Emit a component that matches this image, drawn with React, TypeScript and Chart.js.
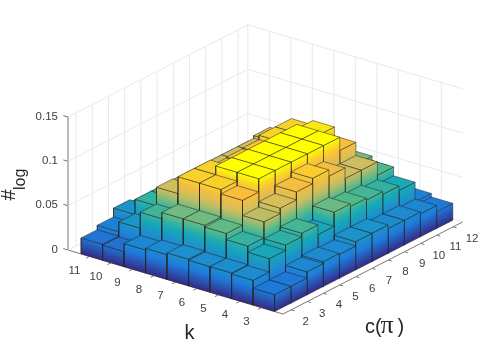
import React, { useEffect, useRef } from "react";
import { Chart, registerables } from "chart.js";

Chart.register(...registerables);

const cTicks = [2, 3, 4, 5, 6, 7, 8, 9, 10, 11, 12];
const kTicks = [3, 4, 5, 6, 7, 8, 9, 10, 11];
const zTicks = [0, 0.05, 0.1, 0.15];

const k3 = [0.019, 0.019, 0.026, 0.028, 0.027, 0.032, 0.032, 0.028, 0.028, 0.026, 0.019];
const k4 = [0.028, 0.043, 0.049, 0.053, 0.042, 0.058, 0.055, 0.053, 0.05, 0.045, 0.023];
const k5 = [0.029, 0.05, 0.068, 0.074, 0.083, 0.089, 0.082, 0.07, 0.07, 0.055, 0.029];
const k6 = [0.029, 0.057, 0.085, 0.1, 0.1, 0.1, 0.1, 0.1, 0.085, 0.06, 0.04];
const k7 = [0.03, 0.059, 0.09, 0.1, 0.1, 0.1, 0.1, 0.1, 0.095, 0.05, 0.03];
const k8 = [0.028, 0.059, 0.09, 0.09, 0.083, 0.084, 0.085, 0.09, 0.09, 0.05, 0.025];
const k9 = [0.026, 0.052, 0.071, 0.07, 0.07, 0.07, 0.07, 0.07, 0.073, 0.04, 0.02];
const k10 = [0.017, 0.034, 0.05, 0.05, 0.05, 0.05, 0.05, 0.05, 0.05, 0.03, 0.018];
const k11 = [0.018, 0.023, 0.033, 0.03, 0.03, 0.03, 0.03, 0.03, 0.03, 0.02, 0.018];
const heights = [k3, k4, k5, k6, k7, k8, k9, k10, k11];

const mapStops = [0, 0.2, 0.45, 0.55, 0.7, 0.85, 0.92, 1];
const mapColors: number[][] = [
  [53, 42, 135], [30, 125, 220], [25, 170, 180], [80, 185, 140],
  [205, 190, 95], [250, 190, 60], [250, 215, 35], [255, 255, 0],
];
const zMax = 0.1;
const C0 = 1.5, K0 = 2, CN = 12.6, KN = 12, ZTOP = 0.15, BAR_K_SHIFT = -0.11;

function proj(c: number, k: number, z: number) {
  return {
    x: 283 + 16.2 * (c - C0) - 21.5 * (k - K0),
    y: 314 - 8.3 * (c - C0) - 6.4 * (k - K0) - 886.67 * z,
  };
}
function colorAt(t: number) {
  const v = Math.max(0, Math.min(1, t));
  let i = 0;
  while (i < mapStops.length - 2 && v > mapStops[i + 1]) i++;
  const u = (v - mapStops[i]) / (mapStops[i + 1] - mapStops[i]);
  const a = mapColors[i], b = mapColors[i + 1];
  return `rgb(${a.map((w, n) => Math.round(w + (b[n] - w) * u)).join(",")})`;
}

function buildBars() {
  const faces: any[] = [];
  const edge = "rgba(35,35,35,0.85)";
  for (let j = 0; j < kTicks.length; j++) {
    for (let i = 0; i < cTicks.length; i++) {
      const c = cTicks[i], k = kTicks[j] + BAR_K_SHIFT, z = heights[j][i];
      const c0 = c - 0.5, c1 = c + 0.5, k0 = k - 0.5, k1 = k + 0.5;
      const common = { showLine: true, borderColor: edge, borderWidth: 0.6, pointRadius: 0, tension: 0, fill: false };
      faces.push({ ...common, faceKind: "top", faceZ: z, data: [proj(c0, k0, z), proj(c1, k0, z), proj(c1, k1, z), proj(c0, k1, z), proj(c0, k0, z)] });
      faces.push({ ...common, faceKind: "side", faceZ: z, data: [proj(c0, k0, 0), proj(c1, k0, 0), proj(c1, k0, z), proj(c0, k0, z), proj(c0, k0, 0)] });
      faces.push({ ...common, faceKind: "side", faceZ: z, data: [proj(c0, k1, 0), proj(c0, k0, 0), proj(c0, k0, z), proj(c0, k1, z), proj(c0, k1, 0)] });
    }
  }
  return faces;
}

function buildGrid() {
  const sets: any[] = [];
  const grid = { showLine: true, borderColor: "#e9e9ec", borderWidth: 1, pointRadius: 0, fill: false, tension: 0 };
  for (const z of zTicks) {
    sets.push({ ...grid, data: [proj(C0, KN, z), proj(CN, KN, z), proj(CN, K0, z)] });
  }
  for (const c of cTicks) sets.push({ ...grid, data: [proj(c, KN, 0), proj(c, KN, ZTOP)] });
  for (const k of kTicks) sets.push({ ...grid, data: [proj(CN, k, 0), proj(CN, k, ZTOP)] });
  sets.push({ ...grid, data: [proj(CN, KN, 0), proj(CN, KN, ZTOP)] });
  const ax = { ...grid, borderColor: "#777", borderWidth: 1 };
  sets.push({ ...ax, data: [proj(C0, KN, 0), proj(C0, KN, ZTOP)] });
  sets.push({ ...ax, data: [proj(C0, KN, 0), proj(C0, K0, 0), proj(CN, K0, 0)] });
  for (const z of zTicks) sets.push({ ...ax, data: [proj(C0, KN, z), proj(C0, KN + 0.22, z)] });
  for (const k of kTicks) sets.push({ ...ax, data: [proj(C0, k, 0), proj(C0 - 0.22, k, 0)] });
  for (const c of cTicks) sets.push({ ...ax, data: [proj(c, K0, 0), proj(c, K0 - 0.16, 0)] });
  return sets;
}

const facePlugin = {
  id: "facePlugin",
  beforeDatasetDraw(chart: any, args: any) {
    const ds = chart.data.datasets[args.index];
    if (!ds.faceKind) return;
    const pts = args.meta.data;
    const ctx = chart.ctx;
    ctx.save();
    ctx.beginPath();
    pts.forEach((p: any, n: number) => (n ? ctx.lineTo(p.x, p.y) : ctx.moveTo(p.x, p.y)));
    ctx.closePath();
    if (ds.faceKind === "top") {
      ctx.fillStyle = colorAt(ds.faceZ / zMax);
    } else {
      const a = pts[0], b = pts[1], t = pts[3];
      const dx = b.x - a.x, dy = b.y - a.y;
      const vx = t.x - a.x, vy = t.y - a.y;
      const along = (vx * dx + vy * dy) / (dx * dx + dy * dy);
      const nx = vx - along * dx, ny = vy - along * dy;
      const g = ctx.createLinearGradient(a.x, a.y, a.x + nx, a.y + ny);
      const top = ds.faceZ / zMax;
      for (let s = 0; s <= 12; s++) g.addColorStop(s / 12, colorAt((top * s) / 12));
      ctx.fillStyle = g;
    }
    ctx.fill();
    ctx.restore();
  },
};

const textPlugin = {
  id: "textPlugin",
  afterDraw(chart: any) {
    const ctx = chart.ctx;
    const sx = chart.scales.x, sy = chart.scales.y;
    const px = (p: { x: number; y: number }) => ({ x: sx.getPixelForValue(p.x), y: sy.getPixelForValue(p.y) });
    ctx.save();
    ctx.fillStyle = "#404040";
    ctx.font = "11.5px 'Liberation Sans'";
    ctx.textBaseline = "middle";
    ctx.textAlign = "right";
    zTicks.forEach((z) => {
      const p = px(proj(C0, KN, z));
      ctx.fillText(String(z), p.x - 10, p.y - 0.5);
    });
    ctx.textAlign = "center";
    kTicks.forEach((k) => {
      const p = px(proj(C0, k, 0));
      ctx.fillText(String(k), p.x - 15, p.y + 14);
    });
    cTicks.forEach((c) => {
      const p = px(proj(c, K0, 0));
      ctx.fillText(String(c), p.x + 14.5 + 0.45 * (c - 2), p.y + 12);
    });
    ctx.fillStyle = "#262626";
    ctx.font = "20px 'Liberation Sans'";
    ctx.fillText("k", 189.5, 333);
    ctx.textAlign = "left";
    ctx.fillText("c(", 365, 327);
    ctx.font = "26px 'Liberation Serif'";
    ctx.fillText("π", 380.5, 326);
    ctx.font = "20px 'Liberation Sans'";
    ctx.fillText(")", 397.5, 327);
    ctx.translate(9, 195);
    ctx.rotate(-Math.PI / 2);
    ctx.textAlign = "center";
    ctx.fillText("#", 0, 0);
    ctx.font = "16px 'Liberation Sans'";
    ctx.textAlign = "left";
    ctx.fillText("log", 5, 12);
    ctx.restore();
  },
};

export default function App() {
  const ref = useRef<HTMLCanvasElement>(null);
  useEffect(() => {
    document.body.style.margin = "0";
    const chart = new Chart(ref.current!, {
      type: "scatter",
      data: { datasets: [...buildBars(), ...buildGrid()] as any[] },
      options: {
        animation: false,
        responsive: false,
        layout: { padding: 0 },
        plugins: { legend: { display: false }, tooltip: { enabled: false } },
        scales: {
          x: { type: "linear", min: 0, max: 491, display: false },
          y: { type: "linear", min: 0, max: 354, reverse: true, display: false },
        },
      },
      plugins: [facePlugin, textPlugin],
    });
    return () => chart.destroy();
  }, []);
  return <canvas ref={ref} width={491} height={354} style={{ display: "block" }} />;
}
